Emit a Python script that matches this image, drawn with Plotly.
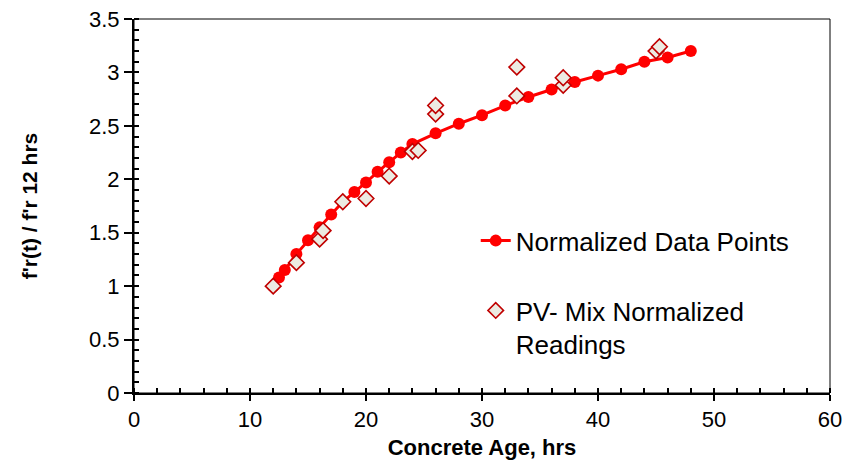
import plotly.graph_objects as go

# normalized strength gain curve (f'r(t) / f'r at 12 hrs)
age_hrs = [12, 12.5, 13, 14, 15, 16, 17, 18, 19, 20, 21, 22, 23, 24, 26, 28, 30, 32, 34,
           36, 38, 40, 42, 44, 46, 48]
norm_ratio = [1.00, 1.08, 1.15, 1.30, 1.43, 1.55, 1.67, 1.79, 1.88, 1.97, 2.07, 2.16, 2.25,
              2.33, 2.43, 2.52, 2.60, 2.69, 2.77, 2.84, 2.91, 2.97, 3.03, 3.10, 3.14, 3.20]

# PV mix readings
pv_age = [12, 14, 16, 16.3, 18, 20, 22, 24, 24.5, 26, 26, 33, 33, 37, 37, 45, 45.3]
pv_ratio = [1.00, 1.22, 1.44, 1.52, 1.79, 1.82, 2.03, 2.26, 2.27, 2.61, 2.69, 2.78, 3.05,
            2.88, 2.95, 3.20, 3.24]

font = "Liberation Sans, Arial, sans-serif"

fig = go.Figure()
fig.add_trace(go.Scatter(x=age_hrs, y=norm_ratio, mode="lines+markers",
                         name="Normalized Data Points", legendgroup="a",
                         line=dict(color="#FF0000", width=3),
                         marker=dict(color="#FF0000", size=12)))
fig.add_trace(go.Scatter(x=pv_age, y=pv_ratio, mode="markers",
                         name="PV- Mix Normalized<br>Readings", legendgroup="b",
                         marker=dict(symbol="diamond", size=12, color="#ECEBE2",
                                     line=dict(color="#C00000", width=1.6))))

fig.update_layout(
    width=846, height=465,
    margin=dict(l=134, r=16, t=19, b=72),
    paper_bgcolor="white", plot_bgcolor="white",
    font=dict(family=font, size=22, color="black"),
    legend=dict(x=0.491, y=0.47, xanchor="left", yanchor="top",
                font=dict(size=26), tracegroupgap=33, valign="top",
                bgcolor="rgba(0,0,0,0)"),
    xaxis=dict(range=[0, 60], dtick=10, showline=True, linecolor="black", linewidth=2,
               ticks="outside", ticklen=6, tickwidth=2, tickcolor="black",
               minor=dict(dtick=2, ticks="inside", ticklen=5, tickwidth=1.5, tickcolor="black"),
               showgrid=False, zeroline=False, tickfont=dict(size=22), automargin=False,
               title=dict(text="<b>Concrete Age, hrs</b>", standoff=8, font=dict(size=22))),
    yaxis=dict(range=[0, 3.5], dtick=0.5, showline=True, linecolor="black", linewidth=2,
               ticks="outside", ticklen=8, tickwidth=2, tickcolor="black",
               minor=dict(dtick=0.1, ticks="inside", ticklen=5, tickwidth=1.5, tickcolor="black"),
               showgrid=False, zeroline=False, tickfont=dict(size=22), automargin=False,
               title=dict(text="<b>f'r(t) / f'r 12 hrs</b>", standoff=46, font=dict(size=21))),
    xaxis2=dict(overlaying="x", matches="x", anchor="y", range=[0, 60], dtick=10,
                ticks="inside", ticklen=6, tickwidth=2, tickcolor="black", automargin=False,
                showticklabels=False, showgrid=False, zeroline=False),
    yaxis2=dict(overlaying="y", matches="y", anchor="x", range=[0, 3.5], dtick=0.5,
                ticks="inside", ticklen=8, tickwidth=2, tickcolor="black", automargin=False,
                showticklabels=False, showgrid=False, zeroline=False),
)
fig.add_shape(type="rect", xref="paper", yref="paper", x0=0, x1=1, y0=0, y1=1,
              line=dict(color="black", width=1), layer="above")

fig.write_html("out.html", config={"displayModeBar": False},
               post_script="document.body.style.margin='0';")
